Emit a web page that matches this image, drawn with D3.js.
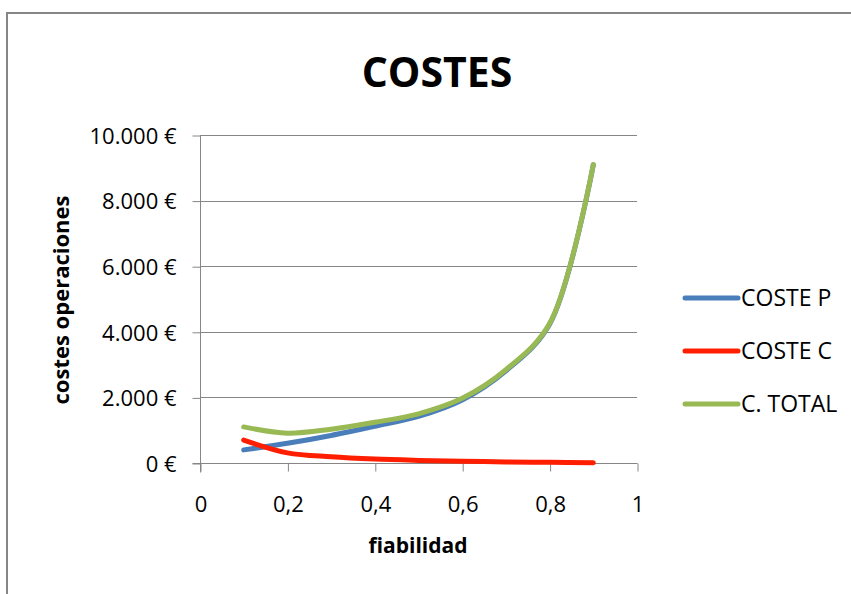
<!DOCTYPE html>
<html>
<head>
<meta charset="utf-8">
<script src="https://cdn.jsdelivr.net/npm/d3@7"></script>
<style>
  html, body { margin: 0; padding: 0; background: #fff; }
  svg { display: block; }
  text { font-family: "Open Sans", "Noto Sans", sans-serif; fill: #000; }
</style>
</head>
<body>
<svg id="chart" width="851" height="594"></svg>
<script>
// Reliability (fiabilidad) vs. operating costs
const fiabilidad = [0.1, 0.2, 0.3, 0.4, 0.5, 0.6, 0.7, 0.8, 0.9];
const costeP     = [400, 600, 840, 1120, 1420, 1920, 2810, 4230, 9090];
const costeC     = [700, 310, 190, 120, 80, 52, 34, 20, 10];
const costeTotal = [1100, 910, 1030, 1240, 1500, 1972, 2844, 4250, 9100];

const seriesNames  = ["COSTE P", "COSTE C", "C. TOTAL"];
const seriesColors = ["#4A7EBB", "#FF1E00", "#98B954"];

const xTickValues = [0, 0.2, 0.4, 0.6, 0.8, 1];
const xTickLabels = ["0", "0,2", "0,4", "0,6", "0,8", "1"];
const yTickValues = [0, 2000, 4000, 6000, 8000, 10000];
const yTickLabels = ["0 €", "2.000 €", "4.000 €", "6.000 €", "8.000 €", "10.000 €"];

const svg = d3.select("#chart");
const gray = "#868686";

// outer chart frame
svg.append("path")
  .attr("d", "M7,600 L7,13 L860,13")
  .attr("fill", "none")
  .attr("stroke", gray)
  .attr("stroke-width", 2);

const x = d3.scaleLinear().domain([0, 1]).range([200, 637]);
const y = d3.scaleLinear().domain([0, 10000]).range([463, 135]);

// horizontal gridlines
svg.append("g")
  .selectAll("line")
  .data(yTickValues.filter(v => v > 0))
  .join("line")
  .attr("x1", x(0)).attr("x2", x(1))
  .attr("y1", d => Math.round(y(d)) + 0.5).attr("y2", d => Math.round(y(d)) + 0.5)
  .attr("stroke", gray).attr("stroke-width", 1);

// y axis
const yAxis = d3.axisLeft(y)
  .tickValues(yTickValues)
  .tickFormat((d, i) => yTickLabels[i])
  .tickSize(8)
  .tickPadding(16);
const gy = svg.append("g")
  .attr("transform", `translate(${x(0) + 0.5},0.5)`)
  .call(yAxis);
gy.select(".domain").attr("stroke", gray).attr("d", `M0,${y(10000)}V${y(0) + 9}`);
gy.selectAll(".tick line").attr("stroke", gray);
gy.selectAll(".tick text")
  .style("font-size", "22px")
  .style("font-family", '"Open Sans", sans-serif')
  .attr("fill", "#000")
  .attr("dy", "0.35em");

// x axis
const xAxis = d3.axisBottom(x)
  .tickValues(xTickValues)
  .tickFormat((d, i) => xTickLabels[i])
  .tickSize(8)
  .tickPadding(25);
const gx = svg.append("g")
  .attr("transform", `translate(0.5,${Math.round(y(0)) + 0.5})`)
  .call(xAxis);
gx.select(".domain").attr("stroke", gray).attr("d", `M${x(0) - 8},0H${x(1)}`);
gx.selectAll(".tick line").attr("stroke", gray);
gx.selectAll(".tick text")
  .style("font-size", "22px")
  .style("font-family", '"Open Sans", sans-serif')
  .attr("fill", "#000");

// series lines (smoothed, centripetal spline so uneven segments stay tidy)
const series = [costeP, costeC, costeTotal];
const line = d3.line()
  .x((d, i) => x(fiabilidad[i]))
  .y(d => y(d))
  .curve(d3.curveCatmullRom.alpha(0.5));

svg.append("g")
  .selectAll("path")
  .data(series)
  .join("path")
  .attr("d", d => line(d))
  .attr("fill", "none")
  .attr("stroke", (d, i) => seriesColors[i])
  .attr("stroke-width", 5)
  .attr("stroke-linecap", "round")
  .attr("stroke-linejoin", "round");

// title
svg.append("text")
  .attr("x", 437).attr("y", 87)
  .attr("text-anchor", "middle")
  .style("font-size", "41px")
  .style("font-weight", "bold")
  .text("COSTES");

// axis titles
svg.append("text")
  .attr("x", 418).attr("y", 553)
  .attr("text-anchor", "middle")
  .style("font-size", "21px")
  .style("font-weight", "bold")
  .text("fiabilidad");

svg.append("text")
  .attr("transform", "translate(69,300) rotate(-90)")
  .attr("text-anchor", "middle")
  .style("font-size", "22px")
  .style("font-weight", "bold")
  .text("costes operaciones");

// legend
const legend = svg.append("g")
  .selectAll("g")
  .data(seriesNames)
  .join("g")
  .attr("transform", (d, i) => `translate(685,${298 + i * 53})`);
legend.append("line")
  .attr("x1", 0).attr("x2", 53)
  .attr("stroke", (d, i) => seriesColors[i])
  .attr("stroke-width", 5)
  .attr("stroke-linecap", "round");
legend.append("text")
  .attr("x", 56).attr("dy", "0.36em")
  .style("font-size", "23px")
  .text(d => d);
</script>
</body>
</html>
